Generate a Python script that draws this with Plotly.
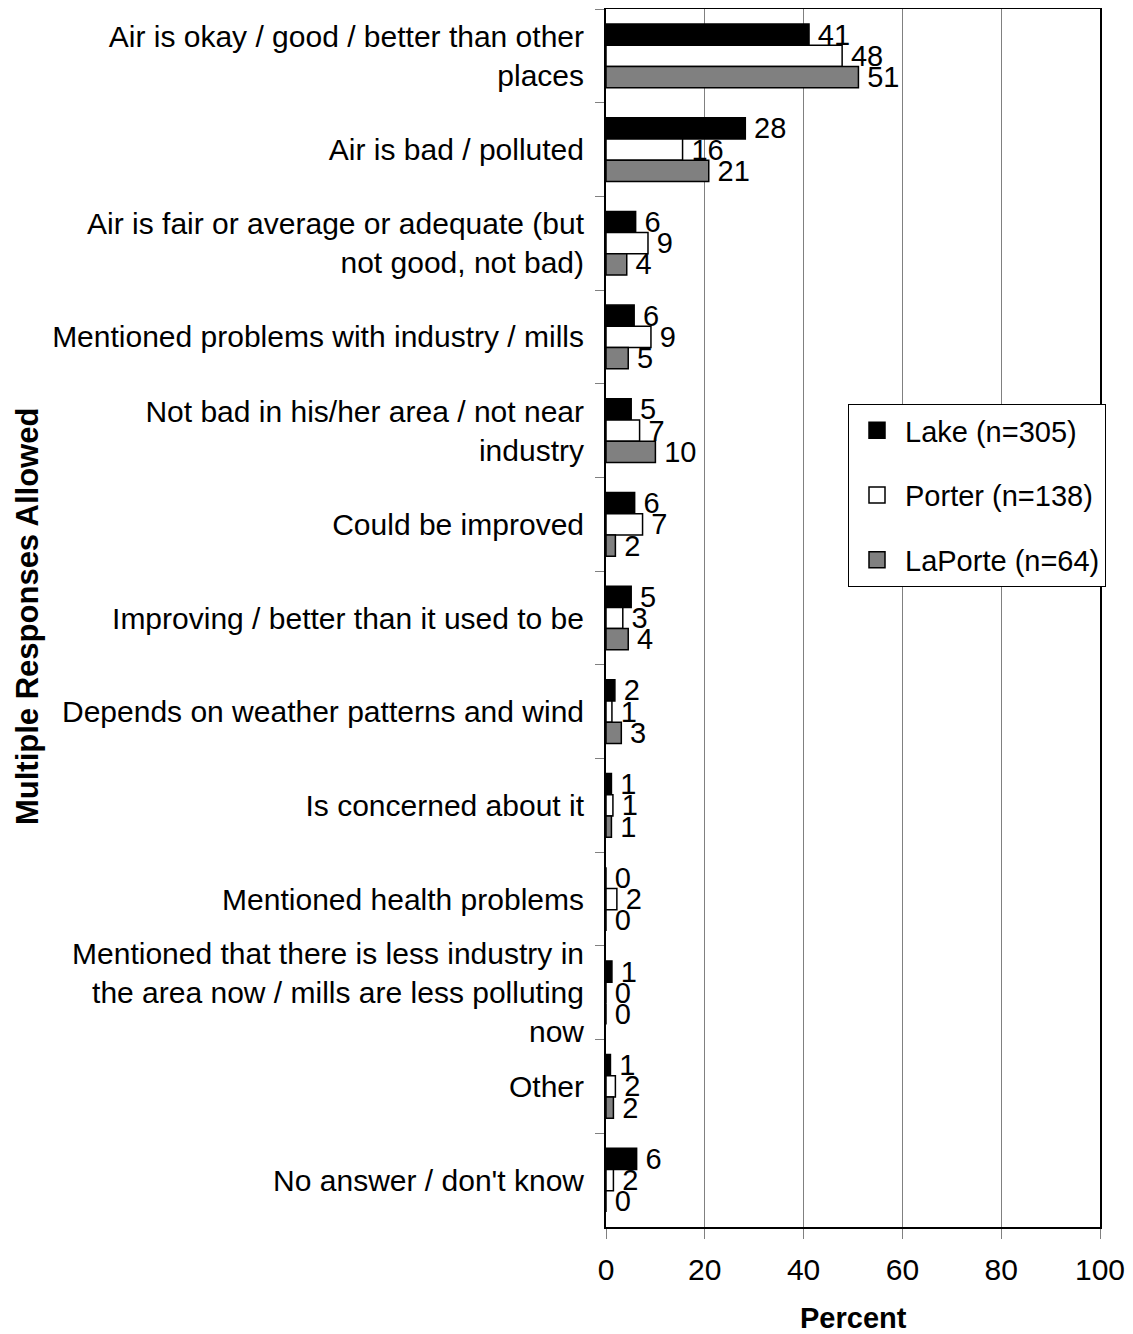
import plotly.graph_objects as go

categories = [
    "Air is okay / good / better than other<br>places",
    "Air is bad / polluted",
    "Air is fair or average or adequate (but<br>not good, not bad)",
    "Mentioned problems with industry / mills",
    "Not bad in his/her area / not near<br>industry",
    "Could be improved",
    "Improving / better than it used to be",
    "Depends on weather patterns and wind",
    "Is concerned about it",
    "Mentioned health problems",
    "Mentioned that there is less industry in<br>the area now / mills are less polluting<br>now",
    "Other",
    "No answer / don't know",
]

lake = [41.1, 28.2, 6.0, 5.7, 5.1, 5.8, 5.1, 1.8, 1.1, 0.0, 1.2, 0.9, 6.2]
porter = [47.8, 15.5, 8.5, 9.1, 6.8, 7.4, 3.4, 1.2, 1.4, 2.2, 0.0, 1.9, 1.5]
laporte = [51.1, 20.8, 4.2, 4.5, 10.0, 1.9, 4.5, 3.1, 1.1, 0.0, 0.0, 1.5, 0.0]

lake_labels = ["41", "28", "6", "6", "5", "6", "5", "2", "1", "0", "1", "1", "6"]
porter_labels = ["48", "16", "9", "9", "7", "7", "3", "1", "1", "2", "0", "2", "2"]
laporte_labels = ["51", "21", "4", "5", "10", "2", "4", "3", "1", "0", "0", "2", "0"]

series = [
    ("Lake (n=305)", lake, lake_labels, "#000000"),
    ("Porter (n=138)", porter, porter_labels, "#ffffff"),
    ("LaPorte (n=64)", laporte, laporte_labels, "#808080"),
]

x_ticks = [0, 20, 40, 60, 80, 100]

FONT = "Liberation Sans, Arial, sans-serif"
FS = 29

fig = go.Figure()
for i, (name, vals, labels, color) in enumerate(series):
    fig.add_trace(go.Bar(
        y=categories, x=vals, orientation="h", name=name,
        marker=dict(color=color, line=dict(color="black", width=1.5)),
        text=["\u2009" + t for t in labels], textposition="outside",
        constraintext="none", cliponaxis=False,
        textfont=dict(size=FS, color="black", family=FONT),
        showlegend=False,
    ))
# legend entries with larger square swatches
for i, (name, vals, labels, color) in enumerate(series):
    fig.add_trace(go.Scatter(
        x=[None], y=[None], mode="markers", name=name,
        marker=dict(symbol="square", size=20, color=color,
                    line=dict(color="black", width=1.5)),
        legendgroup=f"g{i}", showlegend=True,
    ))

W, H = 1125, 1326
L, R, T, B = 598, 33, 1, 107
pw = W - L - R
ph = H - T - B

fig.update_layout(
    width=W, height=H,
    margin=dict(l=L, r=R, t=T, b=B, autoexpand=False),
    paper_bgcolor="white", plot_bgcolor="white",
    barmode="group", bargap=0.32, bargroupgap=0,
    font=dict(family=FONT, size=FS, color="black"),
    showlegend=True,
    legend=dict(
        x=(840 - L) / pw, y=(T + ph - 396) / ph, xanchor="left", yanchor="top",
        bgcolor="white", bordercolor="black", borderwidth=1,
        font=dict(size=FS, family=FONT), tracegroupgap=24,
        traceorder="grouped", itemwidth=46,
    ),
    xaxis=dict(
        range=[0, 100], tickvals=x_ticks, showgrid=True, gridcolor="#808080",
        gridwidth=1, showline=True, linecolor="black", linewidth=2, mirror=True,
        ticks="outside", ticklen=10, tickcolor="#808080",
        tickfont=dict(size=30), zeroline=False, fixedrange=True,
        ticklabelstandoff=5,
    ),
    yaxis=dict(
        autorange="reversed", showline=True, linecolor="black", linewidth=2,
        mirror=True, ticks="outside", ticklen=9, tickcolor="#808080",
        tickson="boundaries", showgrid=False, tickfont=dict(size=30),
        ticklabelstandoff=14,
    ),
    annotations=[
        dict(text="<b>Multiple Responses Allowed</b>", textangle=-90,
             xref="paper", yref="paper", x=(20 - L) / pw, y=(T + ph - 609) / ph,
             showarrow=False, font=dict(size=31), xanchor="center", yanchor="middle"),
        dict(text="<b>Percent</b>", xref="paper", yref="paper",
             x=0.5, y=(T + ph - 1310) / ph, showarrow=False,
             font=dict(size=FS), xanchor="center", yanchor="middle"),
    ],
)

fig.write_html("out.html")
